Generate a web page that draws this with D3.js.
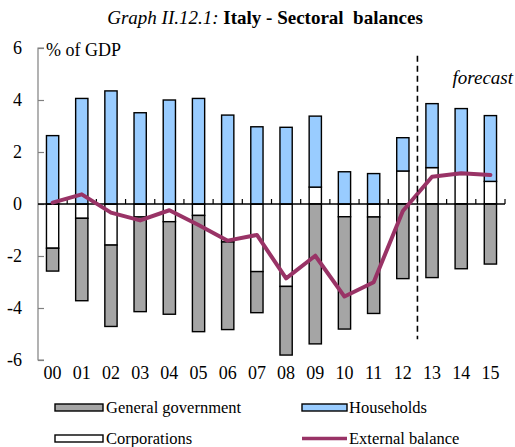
<!DOCTYPE html>
<html>
<head>
<meta charset="utf-8">
<script src="https://cdn.jsdelivr.net/npm/d3@7"></script>
<style>
  html, body { margin: 0; padding: 0; background: #fff; }
  svg { display: block; font-family: "Liberation Serif", "Times New Roman", serif; }
</style>
</head>
<body>
<svg id="chart" width="515" height="447"></svg>
<script>
const years = ["00","01","02","03","04","05","06","07","08","09","10","11","12","13","14","15"];
const government = [-0.88,-3.17,-3.13,-3.64,-3.56,-4.47,-3.37,-1.58,-2.64,-5.38,-4.32,-3.71,-2.87,-2.83,-2.49,-2.31];
const corporations = [-1.70,-0.55,-1.58,-0.50,-0.68,-0.44,-1.46,-2.60,-3.17,0.65,-0.49,-0.50,1.27,1.40,1.14,0.87];
const households = [2.63,4.06,4.35,3.51,4.00,4.06,3.42,2.97,2.95,2.73,1.24,1.17,1.28,2.46,2.53,2.53];
const external = [0.05,0.37,-0.33,-0.63,-0.24,-0.81,-1.41,-1.19,-2.86,-1.99,-3.56,-3.01,-0.27,1.05,1.18,1.12];
const yTicks = [-6,-4,-2,0,2,4,6];
const forecastStart = "13";
const forecastSpan = [5.7, -5.2];

const colors = { gov: "#a5a5a5", corp: "#ffffff", hh: "#99ccff", ext: "#993366" };

const svg = d3.select("#chart");
const x = d3.scaleBand().domain(years).range([38, 505]).padding(0);
const y = d3.scaleLinear().domain([-6, 6]).range([360, 48]);
const bw = x.bandwidth() * 0.42;
const bx = d => x(d) + (x.bandwidth() - bw) / 2;

// Title
const title = svg.append("text").attr("x", 265).attr("y", 24).attr("text-anchor", "middle")
  .attr("font-size", 19);
title.append("tspan").attr("font-style", "italic").text("Graph II.12.1: ");
title.append("tspan").attr("font-weight", "bold").text("Italy - Sectoral\u00a0 balances");

// bars: build segments
const segs = [];
years.forEach((yr, i) => {
  let pos = 0, neg = 0;
  const add = (v, key) => {
    if (v >= 0) { segs.push({yr, key, y0: pos, y1: pos + v}); pos += v; }
    else { segs.push({yr, key, y0: neg + v, y1: neg}); neg += v; }
  };
  add(corporations[i], "corp");
  add(households[i], "hh");
  add(government[i], "gov");
});

svg.append("g").selectAll("rect").data(segs).join("rect")
  .attr("x", d => bx(d.yr))
  .attr("width", bw)
  .attr("y", d => y(d.y1))
  .attr("height", d => y(d.y0) - y(d.y1))
  .attr("fill", d => colors[d.key])
  .attr("stroke", "#000")
  .attr("stroke-width", 1.4);

// Y axis
const yAxis = d3.axisRight(y).tickValues(yTicks).tickSize(6).tickFormat("");
const ya = svg.append("g").attr("transform", "translate(38,0)").call(yAxis);
ya.select(".domain").attr("stroke", "#808080").attr("stroke-width", 1.2).attr("d", `M6,${y(6)}H0V${y(-6)}H6`);
ya.selectAll(".tick line").attr("stroke", "#808080").attr("stroke-width", 1.2);
svg.append("g").selectAll("text").data(yTicks).join("text")
  .attr("x", 22).attr("y", d => y(d)).attr("dy", "0.35em")
  .attr("text-anchor", "end").attr("font-size", 18).text(d => d);

// zero axis with upward ticks at boundaries
const zg = svg.append("g");
zg.append("line").attr("x1", 38).attr("x2", 505).attr("y1", y(0)).attr("y2", y(0))
  .attr("stroke", "#000").attr("stroke-width", 1.4);
zg.selectAll("line.t").data(years.slice(1).concat(["end"])).join("line").attr("class", "t")
  .attr("x1", d => d === "end" ? 505 : x(d)).attr("x2", d => d === "end" ? 505 : x(d))
  .attr("y1", y(0)).attr("y2", y(0) - 5).attr("stroke", "#000").attr("stroke-width", 1.2);

// x labels
svg.append("g").selectAll("text").data(years).join("text")
  .attr("x", d => x(d) + x.bandwidth() / 2).attr("y", 379)
  .attr("text-anchor", "middle").attr("font-size", 18).text(d => d);

// external balance line
const line = d3.line().x((d, i) => x(years[i]) + x.bandwidth() / 2).y(d => y(d));
svg.append("path").datum(external).attr("d", line)
  .attr("fill", "none").attr("stroke", colors.ext).attr("stroke-width", 4)
  .attr("stroke-linejoin", "round").attr("stroke-linecap", "round");

// forecast divider
svg.append("line").attr("x1", x(forecastStart)).attr("x2", x(forecastStart))
  .attr("y1", y(forecastSpan[0])).attr("y2", y(forecastSpan[1]))
  .attr("stroke", "#000").attr("stroke-width", 1.6).attr("stroke-dasharray", "6,4");
svg.append("text").attr("x", 513).attr("y", 84).attr("text-anchor", "end")
  .attr("font-style", "italic").attr("font-size", 19).text("forecast");

// unit label
svg.append("text").attr("x", 46).attr("y", 56).attr("font-size", 18).text("% of GDP");

// legend
const legend = [
  {label: "General government", type: "rect", fill: colors.gov, col: 0, row: 0},
  {label: "Households", type: "rect", fill: colors.hh, col: 1, row: 0},
  {label: "Corporations", type: "rect", fill: colors.corp, col: 0, row: 1},
  {label: "External balance", type: "line", fill: colors.ext, col: 1, row: 1}
];
const lx = [55, 302], ly = [407.5, 438.5];
const lg = svg.append("g").selectAll("g").data(legend).join("g")
  .attr("transform", d => `translate(${lx[d.col]},${ly[d.row]})`);
lg.filter(d => d.type === "rect").append("rect")
  .attr("x", 0).attr("y", -3.5).attr("width", d => d.col === 0 ? 48 : 45).attr("height", 7)
  .attr("fill", d => d.fill).attr("stroke", "#000").attr("stroke-width", 1.4);
lg.filter(d => d.type === "line").append("line")
  .attr("x1", 0).attr("x2", 45).attr("y1", 0).attr("y2", 0)
  .attr("stroke", d => d.fill).attr("stroke-width", 3.5);
lg.append("text").attr("x", d => d.col === 0 ? 51 : 47).attr("y", 0).attr("dy", "0.35em")
  .attr("font-size", 16.5).text(d => d.label);
</script>
</body>
</html>
